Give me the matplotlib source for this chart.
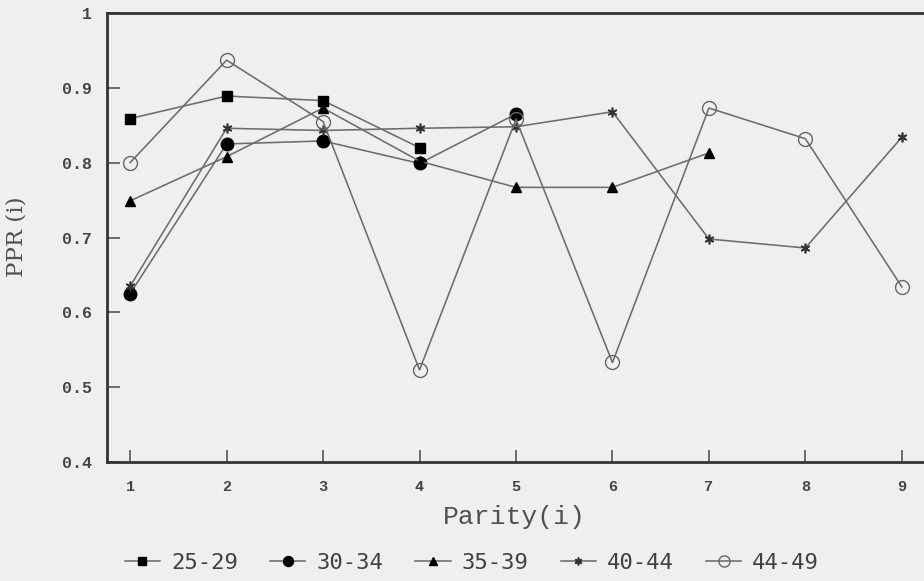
import matplotlib
matplotlib.use("Agg")
import matplotlib.pyplot as plt

parity = [1, 2, 3, 4, 5, 6, 7, 8, 9]
labels = ["25-29", "30-34", "35-39", "40-44", "44-49"]
s2529 = [0.859, 0.889, 0.883, 0.820]
s3034 = [0.625, 0.825, 0.829, 0.799, 0.865]
s3539 = [0.749, 0.808, 0.873, 0.802, 0.767, 0.767, 0.813]
s4044 = [0.635, 0.846, 0.843, 0.846, 0.848, 0.868, 0.698, 0.686, 0.834]
s4449 = [0.800, 0.937, 0.855, 0.523, 0.858, 0.533, 0.873, 0.832, 0.634]
yticks = [0.4, 0.5, 0.6, 0.7, 0.8, 0.9, 1.0]
ytick_labels = ["0.4", "0.5", "0.6", "0.7", "0.8", "0.9", "1"]

W, H = 924, 581
bg = "#efefef"
fig = plt.figure(figsize=(W / 100, H / 100), dpi=100, facecolor=bg)
ax = fig.add_axes([107 / W, 1 - 462 / H, 845 / W, (462 - 13) / H])
ax.set_facecolor(bg)

lc = "#6c6c6c"
styles = [
    dict(marker="s", ms=7, mfc="black", mec="black"),
    dict(marker="o", ms=9, mfc="black", mec="black"),
    dict(marker="^", ms=7, mfc="black", mec="black"),
    dict(marker=(6, 2, 0), ms=7, mfc="black", mec="#333333", mew=1.2),
    dict(marker="o", ms=10, mfc="none", mec="#666666", mew=1.0),
]
series = [s2529, s3034, s3539, s4044, s4449]
handles = []
for vals, st, lab in zip(series, styles, labels):
    ln, = ax.plot(parity[:len(vals)], vals, color=lc, lw=1.15, label=lab, **st)
    handles.append(ln)

ax.set_xlim(0.76, 9.52)
ax.set_ylim(0.4, 1.0)
ax.set_xticks(parity)
ax.set_yticks(yticks)
ax.set_yticklabels(ytick_labels)
mono = "Liberation Mono"
ax.tick_params(direction="in", length=9, width=1.2, color="#555555", labelcolor="#444444")
ax.tick_params(axis="x", pad=13, labelsize=11)
ax.tick_params(axis="y", pad=11, labelsize=12)
for t in ax.get_xticklabels() + ax.get_yticklabels():
    t.set_fontfamily(mono)
    t.set_fontweight("bold")
for sp in ["left", "bottom", "top"]:
    ax.spines[sp].set_linewidth(2.0)
    ax.spines[sp].set_color("#333333")
ax.spines["right"].set_visible(False)

ax.set_xlabel("Parity(i)", fontfamily=mono, fontsize=19, color="#505050")
ax.xaxis.set_label_coords((514 - 107) / 845, -(529 - 462) / 449)
ax.xaxis.label.set_va("bottom")
ax.set_ylabel("PPR (i)", fontfamily="DejaVu Serif", fontsize=16.5, color="#505050")
ax.yaxis.set_label_coords(-(107 - 28) / 845, (462 - 237) / 449)

fig.legend(handles=handles, labels=labels, loc="center", bbox_to_anchor=(472 / W, 1 - 563 / H),
           ncol=5, frameon=False, handlelength=1.58, handletextpad=0.5, columnspacing=1.45,
           prop=dict(family="DejaVu Sans Mono", size=16), labelcolor="#404040", markerscale=0.8)

fig.savefig("out.png", dpi=100, facecolor=fig.get_facecolor())
